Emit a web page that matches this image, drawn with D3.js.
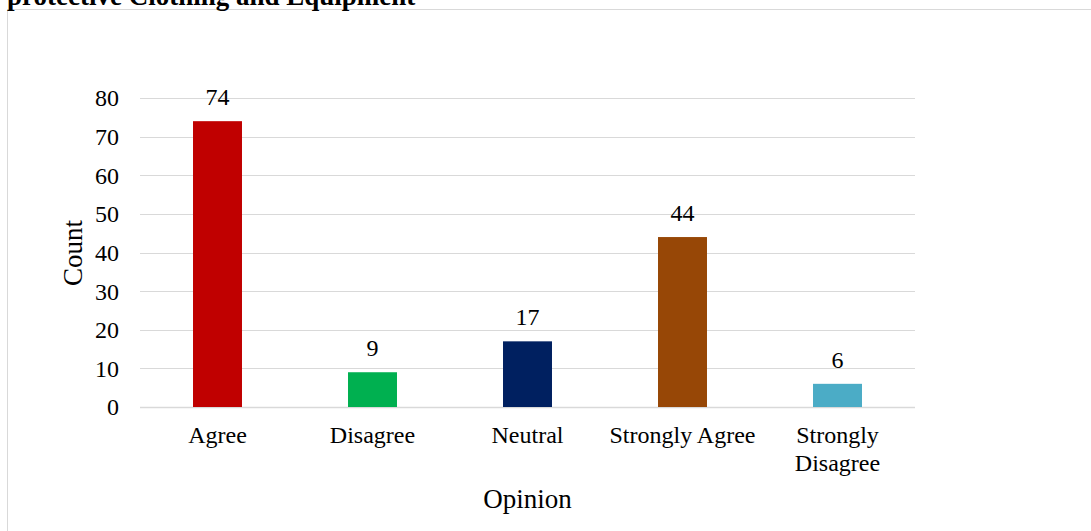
<!DOCTYPE html>
<html>
<head>
<meta charset="utf-8">
<script src="https://cdn.jsdelivr.net/npm/d3@7"></script>
<style>
  html, body { margin: 0; padding: 0; background: #fff; }
  svg { display: block; }
  text { font-family: "Liberation Serif", "Times New Roman", serif; fill: #000; }
</style>
</head>
<body>
<svg id="chart" width="1091" height="531"></svg>
<script>
// Responses on protective clothing and equipment
const categories = ["Agree", "Disagree", "Neutral", "Strongly Agree", "Strongly Disagree"];
const counts = [74, 9, 17, 44, 6];
const barColors = ["#C00000", "#00B050", "#002060", "#974706", "#4BACC6"];
const yTicks = [0, 10, 20, 30, 40, 50, 60, 70, 80];
const titleText = "protective Clothing and Equipment";

const svg = d3.select("#chart");

// Chart frame
svg.append("rect")
  .attr("x", 7.5).attr("y", 9.5)
  .attr("width", 1100).attr("height", 540)
  .attr("fill", "none").attr("stroke", "#d9d9d9").attr("stroke-width", 1);

// Title (runs above the frame)
svg.append("text")
  .attr("x", 7).attr("y", 5)
  .attr("font-size", 27).attr("font-weight", "bold")
  .text(titleText);

const plot = { left: 140, right: 915, top: 98, bottom: 407 };

const x = d3.scaleBand()
  .domain(categories)
  .range([plot.left, plot.right])
  .paddingInner(0.684).paddingOuter(0.342);

const y = d3.scaleLinear().domain([0, 80]).range([plot.bottom, plot.top]);

// Gridlines
svg.append("g")
  .selectAll("line")
  .data(yTicks)
  .join("line")
  .attr("x1", plot.left).attr("x2", plot.right)
  .attr("y1", d => Math.round(y(d)) + 0.5).attr("y2", d => Math.round(y(d)) + 0.5)
  .attr("stroke", "#d9d9d9").attr("stroke-width", d => d === 0 ? 1.5 : 1);

// Y axis tick labels
svg.append("g")
  .selectAll("text")
  .data(yTicks)
  .join("text")
  .attr("x", 119).attr("y", d => y(d))
  .attr("dy", "0.35em")
  .attr("text-anchor", "end")
  .attr("font-size", 24)
  .text(d => d);

// Bars
const data = categories.map((c, i) => ({ cat: c, value: counts[i], color: barColors[i] }));
svg.append("g")
  .selectAll("rect")
  .data(data)
  .join("rect")
  .attr("x", d => x(d.cat))
  .attr("y", d => y(d.value))
  .attr("width", x.bandwidth())
  .attr("height", d => y(0) - y(d.value))
  .attr("fill", d => d.color);

// Value labels
svg.append("g")
  .selectAll("text")
  .data(data)
  .join("text")
  .attr("x", d => x(d.cat) + x.bandwidth() / 2)
  .attr("y", d => y(d.value) - 16)
  .attr("text-anchor", "middle")
  .attr("font-size", 24)
  .text(d => d.value);

// Category labels, wrapping long ones onto two lines
const catLines = {
  "Strongly Disagree": ["Strongly", "Disagree"]
};
const catG = svg.append("g");
categories.forEach(c => {
  const lines = catLines[c] || [c];
  const t = catG.append("text")
    .attr("x", x(c) + x.bandwidth() / 2)
    .attr("y", 443)
    .attr("text-anchor", "middle")
    .attr("font-size", 24);
  lines.forEach((ln, i) => {
    t.append("tspan")
      .attr("x", x(c) + x.bandwidth() / 2)
      .attr("dy", i === 0 ? 0 : 28)
      .text(ln);
  });
});

// Axis titles
svg.append("text")
  .attr("x", (plot.left + plot.right) / 2)
  .attr("y", 508)
  .attr("text-anchor", "middle")
  .attr("font-size", 27)
  .text("Opinion");

svg.append("text")
  .attr("transform", "translate(82,253) rotate(-90)")
  .attr("text-anchor", "middle")
  .attr("font-size", 27)
  .text("Count");
</script>
</body>
</html>
